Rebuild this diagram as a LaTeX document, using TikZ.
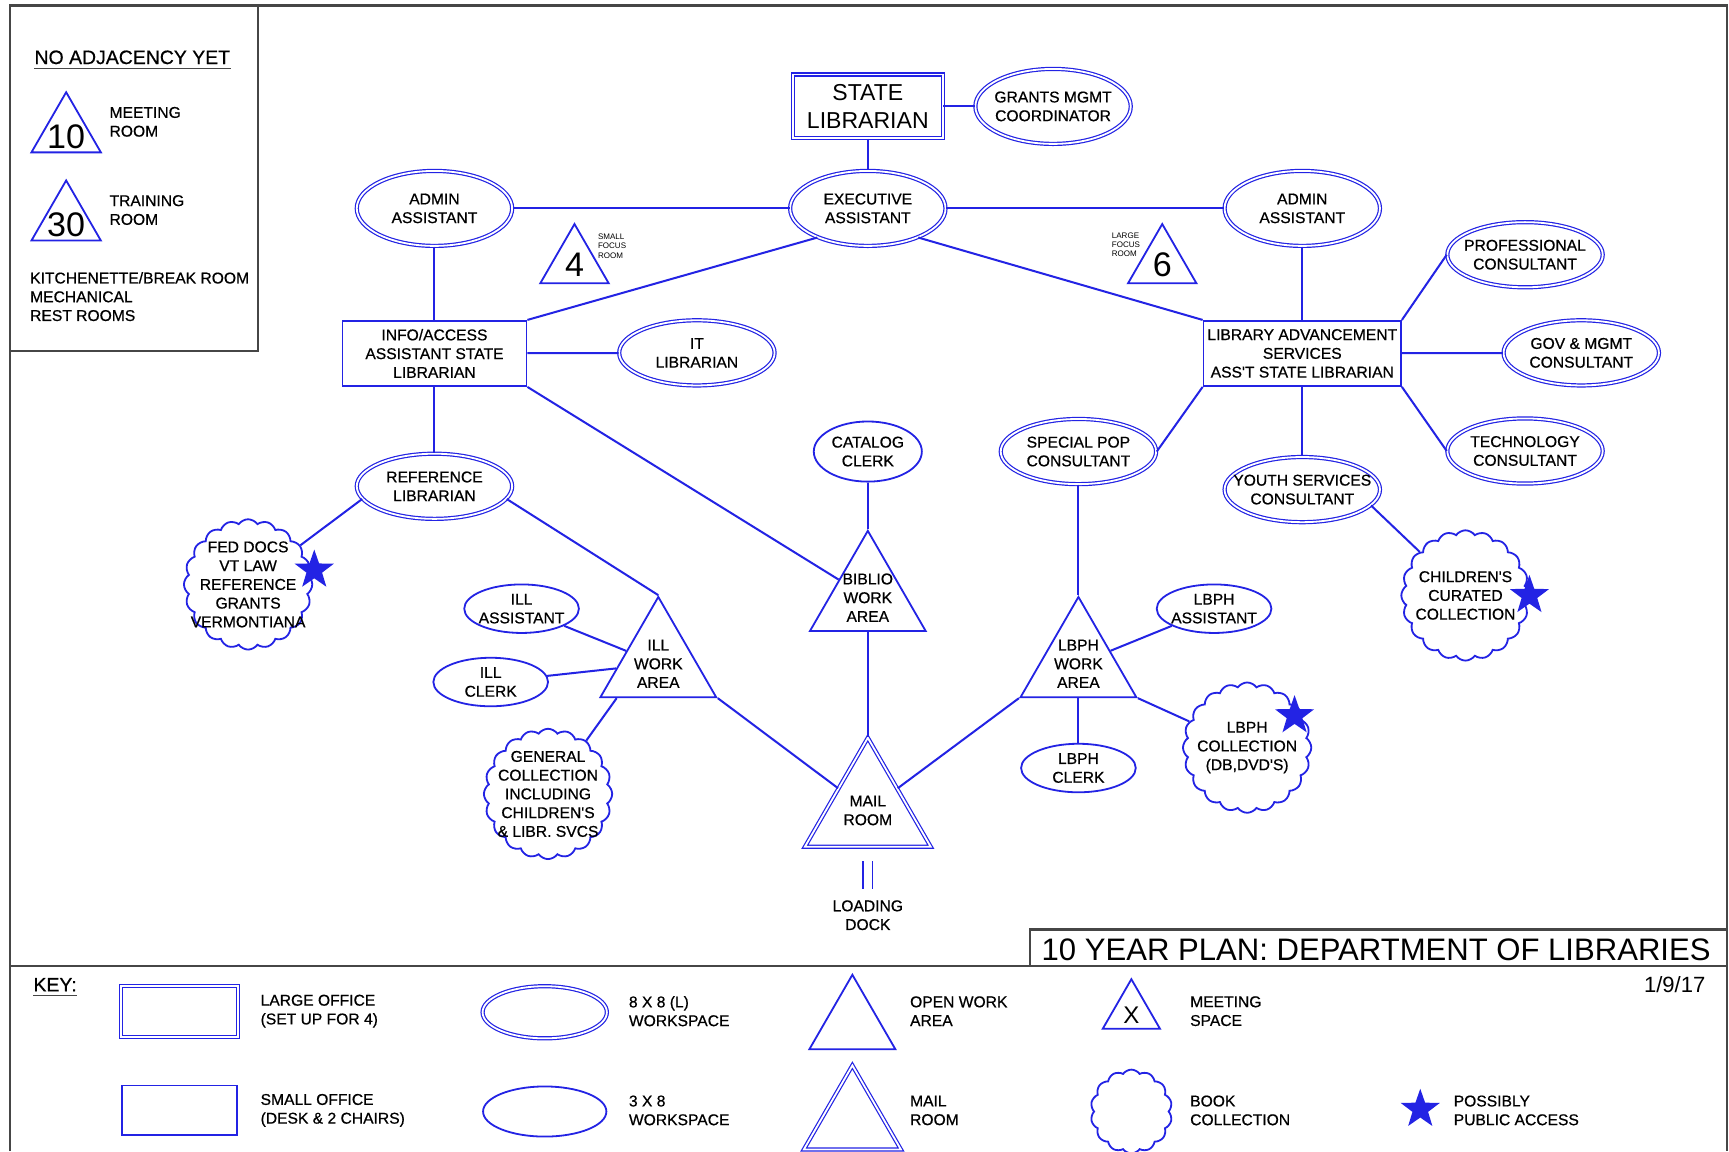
\documentclass[tikz,border=0pt]{standalone}
\usepackage{fontspec}
\setmainfont{Liberation Sans}
\newfontfamily\planfont{Liberation Sans}[FakeBold=0.6]
\usepackage{tikz}
\usetikzlibrary{shapes,arrows,calc}
\definecolor{plblue}{RGB}{35,35,228}
\definecolor{plgray}{RGB}{70,70,70}
\newcommand{\plantxt}{\planfont\fontsize{7.8}{9.35}\selectfont}
\newcommand{\bigplantxt}{\fontsize{11.5}{13.75}\selectfont}
\newcommand{\headtxt}{\planfont\fontsize{9.7}{11}\selectfont}
\newcommand{\numtxt}{\fontsize{17}{17}\selectfont}
\newcommand{\tinytxt}{\fontsize{4}{4.7}\selectfont}
\newcommand{\titletxt}{\fontsize{15.5}{17}\selectfont}
\newcommand{\datetxt}{\fontsize{11}{12}\selectfont}
\tikzstyle{bigoval} = [ellipse, draw=plblue, double, line width=0.6pt,
double distance=0.9pt, minimum width=77.5pt, minimum height=32.5pt, inner sep=0pt]
\tikzstyle{topoval} = [bigoval, minimum height=37.4pt]
\tikzstyle{oval} = [ellipse, draw=plblue, line width=0.9pt,
minimum width=57.2pt, minimum height=24.2pt, inner sep=0pt]
\tikzstyle{bigoffice} = [rectangle, draw=plblue, double, line width=0.6pt,
double distance=0.9pt, inner sep=0pt, align=center]
\tikzstyle{office} = [rectangle, draw=plblue, line width=0.9pt,
minimum height=32.5pt, inner sep=0pt, align=center, font=\plantxt]
\tikzstyle{workarea} = [regular polygon, regular polygon sides=3, draw=plblue,
line width=0.9pt, minimum size=66.7pt, inner sep=0pt]
\tikzstyle{mailroom} = [workarea, double, line width=0.6pt, double distance=0.9pt,
minimum size=72.5pt]
\tikzstyle{books} = [cloud, cloud puffs=20, cloud puff arc=110, aspect=1,
draw=plblue, line width=0.9pt, minimum width=64pt, minimum height=65pt, inner sep=0pt]
\tikzstyle{public} = [star, star points=5, star point ratio=2.5, fill=plblue,
minimum size=20.5pt, inner sep=0pt]
\tikzstyle{keytext} = [anchor=west, align=left, font=\plantxt, inner sep=0pt]
\tikzstyle{heading} = [font=\headtxt, inner sep=0pt]
\tikzstyle{underline} = [draw=plgray, line width=0.8pt]
\tikzstyle{line} = [draw=plblue, line width=1pt]
\tikzstyle{frame} = [draw=plgray, line width=1.1pt]
\tikzstyle{every label} = [align=center, font=\plantxt, inner sep=0pt]

\begin{document}
\begin{tikzpicture}[x=0.55pt, y=-0.55pt]
\path [fill=white] (0,0) rectangle (1568,1044);
\useasboundingbox (0,0) rectangle (1568,1044);
% Frame
\draw [frame] (9,1044) -- (9,5) -- (1566,5) -- (1566,1044);
\draw [frame] (9,318) -- (234,318) -- (234,5);
\draw [frame] (9,876) -- (1566,876);
\draw [frame] (934,876) -- (934,843) -- (1566,843);
% No adjacency yet
\node [heading] (noadj) at (120,52) {NO ADJACENCY YET};
\path [underline] ($(noadj.south west)+(0,3.5)$) -- ($(noadj.south east)+(0,3.5)$);
\node [workarea, minimum size=40pt] (meet10) at (60,120) {};
\node [font=\numtxt] (ten) at (60,124) {10};
\node [keytext] (meetroom) at (99,110.5) {MEETING\\ROOM};
\node [workarea, minimum size=40pt] (train30) at (60,200) {};
\node [font=\numtxt] (thirty) at (60,204) {30};
\node [keytext] (trainroom) at (99,190.5) {TRAINING\\ROOM};
\node [keytext] (other) at (27,269) {KITCHENETTE/BREAK ROOM\\MECHANICAL\\REST ROOMS};
% Place nodes
\node [bigoffice, font=\bigplantxt, minimum width=74.8pt, minimum height=31.9pt] (statelib) at (787,96.5) {STATE\\LIBRARIAN};
\node [topoval, label={center:{GRANTS MGMT\\COORDINATOR}}] (grants) at (955,96.5) {};
\node [topoval, label={center:{EXECUTIVE\\ASSISTANT}}] (exec) at (787,189) {};
\node [topoval, label={center:{ADMIN\\ASSISTANT}}] (adminl) at (394,189) {};
\node [topoval, label={center:{ADMIN\\ASSISTANT}}] (adminr) at (1181,189) {};
\node [workarea, minimum size=39.4pt] (focus4) at (521,239) {};
\node [font=\numtxt] (four) at (521,240) {4};
\node [keytext, font=\tinytxt] (smallfocus) at (542,223) {SMALL\\FOCUS\\ROOM};
\node [workarea, minimum size=39.4pt] (focus6) at (1054,239) {};
\node [font=\numtxt] (six) at (1054,240) {6};
\node [keytext, font=\tinytxt] (largefocus) at (1008,222) {LARGE\\FOCUS\\ROOM};
\node [office, minimum width=91.8pt] (info) at (394,320.5) {INFO/ACCESS\\ASSISTANT STATE\\LIBRARIAN};
\node [bigoval, label={center:{IT\\LIBRARIAN}}] (itlib) at (632,320) {};
\node [office, minimum width=98.5pt] (libadv) at (1181,320.5) {LIBRARY ADVANCEMENT\\SERVICES\\ASS'T STATE LIBRARIAN};
\node [bigoval, label={center:{PROFESSIONAL\\CONSULTANT}}] (prof) at (1383,231) {};
\node [bigoval, label={center:{GOV \& MGMT\\CONSULTANT}}] (gov) at (1434,320) {};
\node [bigoval, label={center:{TECHNOLOGY\\CONSULTANT}}] (tech) at (1383,409) {};
\node [bigoval, label={center:{SPECIAL POP\\CONSULTANT}}] (specpop) at (978,409.5) {};
\node [bigoval, label={center:{YOUTH SERVICES\\CONSULTANT}}] (youth) at (1181,444) {};
\node [bigoval, label={center:{REFERENCE\\LIBRARIAN}}] (ref) at (394,441) {};
\node [oval, minimum width=53.9pt, minimum height=30pt, label={center:{CATALOG\\CLERK}}] (catalog) at (787,409.5) {};
\node [workarea, label={center:{BIBLIO\\WORK\\AREA}}] (biblio) at (787,542) {};
\node [workarea, label={center:{ILL\\WORK\\AREA}}] (ill) at (597,602) {};
\node [workarea, label={center:{LBPH\\WORK\\AREA}}] (lbph) at (978,602) {};
\node [mailroom, label={center:{MAIL\\ROOM}}] (mail) at (787,735) {};
\node [oval, label={center:{ILL\\ASSISTANT}}] (illasst) at (473,552) {};
\node [oval, label={center:{ILL\\CLERK}}] (illclerk) at (445,618.5) {};
\node [oval, label={center:{LBPH\\ASSISTANT}}] (lbphasst) at (1101,552) {};
\node [oval, label={center:{LBPH\\CLERK}}] (lbphclerk) at (978,696.5) {};
\node [books, label={center:{FED DOCS\\VT LAW\\REFERENCE\\GRANTS\\VERMONTIANA}}] (fed) at (225,530) {};
\node [books, label={center:{GENERAL\\COLLECTION\\INCLUDING\\CHILDREN'S\\\& LIBR. SVCS}}] (gencoll) at (497,720) {};
\node [books, label={center:{LBPH\\COLLECTION\\(DB,DVD'S)}}] (lbphcoll) at (1131,678) {};
\node [books, label={center:{CHILDREN'S\\CURATED\\COLLECTION}}] (childcoll) at (1329,540) {};
\node [public] (fedstar) at (285,517) {};
\node [public] (lbphstar) at (1174,649) {};
\node [public] (childstar) at (1387,540) {};
\node [font=\plantxt, align=center] (dock) at (787,830) {LOADING\\DOCK};
\coordinate (docktop) at (787,781);
\coordinate (dockend) at (787,806);
% Draw edges
\path [line] (statelib) -- (grants);
\path [line] (statelib) -- (exec);
\path [line] (adminl) -- (exec);
\path [line] (exec) -- (adminr);
\path [line] (adminl) -- (info);
\path [line] (exec.210) -- (info.north east);
\path [line] (exec.330) -- (libadv.north west);
\path [line] (adminr) -- (libadv);
\path [line] (info) -- (itlib);
\path [line] (info) -- (ref);
\path [line] (info.south east) -- (biblio);
\path [line] (ref.190) -- (fed);
\path [line] (ref.350) -- (ill.corner 1);
\path [line] (illasst) -- (ill);
\path [line] (illclerk) -- (ill);
\path [line] (gencoll) -- ($(ill.corner 2)!.15!(ill.corner 3)$);
\path [line] (ill.corner 3) -- (mail);
\path [line] (catalog) -- (biblio.corner 1);
\path [line] (biblio) -- (mail);
\path [line] (lbph.corner 2) -- (mail);
\path [line] (specpop) -- (lbph.corner 1);
\path [line] (lbph) -- (lbphasst);
\path [line] (lbph) -- (lbphclerk);
\path [line] (lbph.corner 3) -- (lbphcoll);
\path [line] (libadv.south west) -- (specpop.east);
\path [line] (libadv.north east) -- (prof.west);
\path [line] (libadv) -- (gov);
\path [line] (libadv.south east) -- (tech.west);
\path [line] (libadv) -- (youth);
\path [line] (youth.347) -- (childcoll);
\path [line, double, line width=0.8pt, double distance=3.9pt] (docktop) -- (dockend);
% Title and key
\node [font=\titletxt] (title) at (1248,861) {10 YEAR PLAN: DEPARTMENT OF LIBRARIES};
\node [font=\datetxt, anchor=east] (date) at (1553,893) {1/9/17};
\node [heading, anchor=west] (key) at (30,893) {KEY:};
\path [underline] ($(key.south west)+(0,3.5)$) -- ($(key.south east)+(0,3.5)$);
\node [bigoffice, minimum width=58.5pt, minimum height=25.5pt] (klarge) at (163,917.5) {};
\node [keytext] (klargetxt) at (236,917) {LARGE OFFICE\\(SET UP FOR 4)};
\node [office, minimum width=57.2pt, minimum height=24.8pt] (ksmall) at (163,1007) {};
\node [keytext] (ksmalltxt) at (236,1007) {SMALL OFFICE\\(DESK \& 2 CHAIRS)};
\node [bigoval, minimum width=62pt, minimum height=26pt] (kbig) at (494,918) {};
\node [keytext] (kbigtxt) at (570,917) {8 X 8 (L)\\WORKSPACE};
\node [oval, minimum width=61.5pt, minimum height=25pt] (koval) at (494,1008) {};
\node [keytext] (kovaltxt) at (570,1007) {3 X 8\\WORKSPACE};
\node [workarea, minimum size=49.5pt] (kopen) at (773,929) {};
\node [keytext] (kopentxt) at (825,917) {OPEN WORK\\AREA};
\node [mailroom, minimum size=55.9pt] (kmail) at (773,1017) {};
\node [keytext] (kmailtxt) at (825,1007) {MAIL\\ROOM};
\node [workarea, minimum size=33pt] (kmeet) at (1026,918) {};
\node [font=\fontsize{12}{12}\selectfont] (kx) at (1026,921) {X};
\node [keytext] (kmeettxt) at (1079,917) {MEETING\\SPACE};
\node [books, cloud puffs=14, minimum width=40.7pt, minimum height=41.8pt] (kbooks) at (1026,1008) {};
\node [keytext] (kbookstxt) at (1079,1007) {BOOK\\COLLECTION};
\node [public] (kstar) at (1288,1006) {};
\node [keytext] (kstartxt) at (1318,1007) {POSSIBLY\\PUBLIC ACCESS};
\end{tikzpicture}
\end{document}
